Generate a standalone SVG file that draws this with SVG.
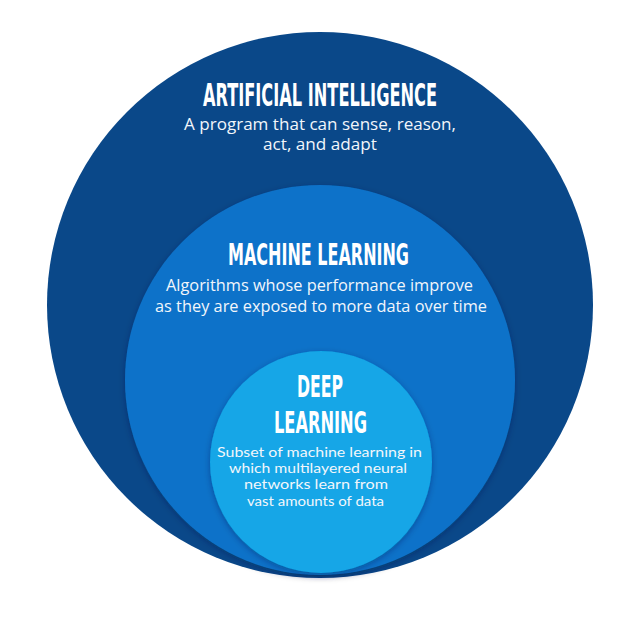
<svg xmlns="http://www.w3.org/2000/svg" width="640" height="620" viewBox="0 0 640 620">
  <defs>
    <filter id="shadow" x="-20%" y="-20%" width="140%" height="140%">
      <feDropShadow dx="0" dy="2" stdDeviation="3" flood-color="#02203f" flood-opacity="0.35"/>
    </filter>
    <style>
      .title { font-family: "Liberation Sans Narrow", "DejaVu Sans Condensed", "Liberation Sans", sans-serif; font-weight: bold; fill: #ffffff; text-anchor: start; }
      .sub { font-family: "Open Sans", "Noto Sans", "Liberation Sans", sans-serif; font-size: 15.5px; fill: #f2f6fb; text-anchor: start; }
      .dlsub { font-family: Lato, "Liberation Sans", sans-serif; font-size: 13.2px; fill: #f2f6fb; text-anchor: start; }
    </style>
  </defs>
  <rect x="0" y="0" width="640" height="620" fill="#ffffff"/>

  <g id="node-ai">
    <circle cx="320" cy="305" r="273" fill="#0a4889"/>
    <text class="title" x="203" y="106" font-size="32" textLength="234" lengthAdjust="spacingAndGlyphs">ARTIFICIAL INTELLIGENCE</text>
    <text class="sub" x="184" y="130" textLength="272" lengthAdjust="spacingAndGlyphs">A program that can sense, reason,</text>
    <text class="sub" x="263" y="150" textLength="114" lengthAdjust="spacingAndGlyphs">act, and adapt</text>
  </g>

  <g id="node-ml">
    <circle cx="320" cy="380" r="195" fill="#0d72c9" filter="url(#shadow)"/>
    <text class="title" x="228" y="265" font-size="30" textLength="181" lengthAdjust="spacingAndGlyphs">MACHINE LEARNING</text>
    <text class="sub" x="166" y="291" textLength="307" lengthAdjust="spacingAndGlyphs">Algorithms whose performance improve</text>
    <text class="sub" x="155" y="312" textLength="332" lengthAdjust="spacingAndGlyphs">as they are exposed to more data over time</text>
  </g>

  <g id="node-dl">
    <circle cx="321" cy="462" r="111" fill="#13a6e7" filter="url(#shadow)"/>
    <text class="title" x="297" y="397" font-size="30" textLength="46" lengthAdjust="spacingAndGlyphs">DEEP</text>
    <text class="title" x="274" y="433" font-size="30" textLength="93" lengthAdjust="spacingAndGlyphs">LEARNING</text>
    <text class="dlsub" x="217" y="457" textLength="205" lengthAdjust="spacingAndGlyphs">Subset of machine learning in</text>
    <text class="dlsub" x="229" y="473" textLength="178" lengthAdjust="spacingAndGlyphs">which multilayered neural</text>
    <text class="dlsub" x="244" y="489" textLength="144" lengthAdjust="spacingAndGlyphs">networks learn from</text>
    <text class="dlsub" x="247" y="506" textLength="137" lengthAdjust="spacingAndGlyphs">vast amounts of data</text>
  </g>
</svg>
